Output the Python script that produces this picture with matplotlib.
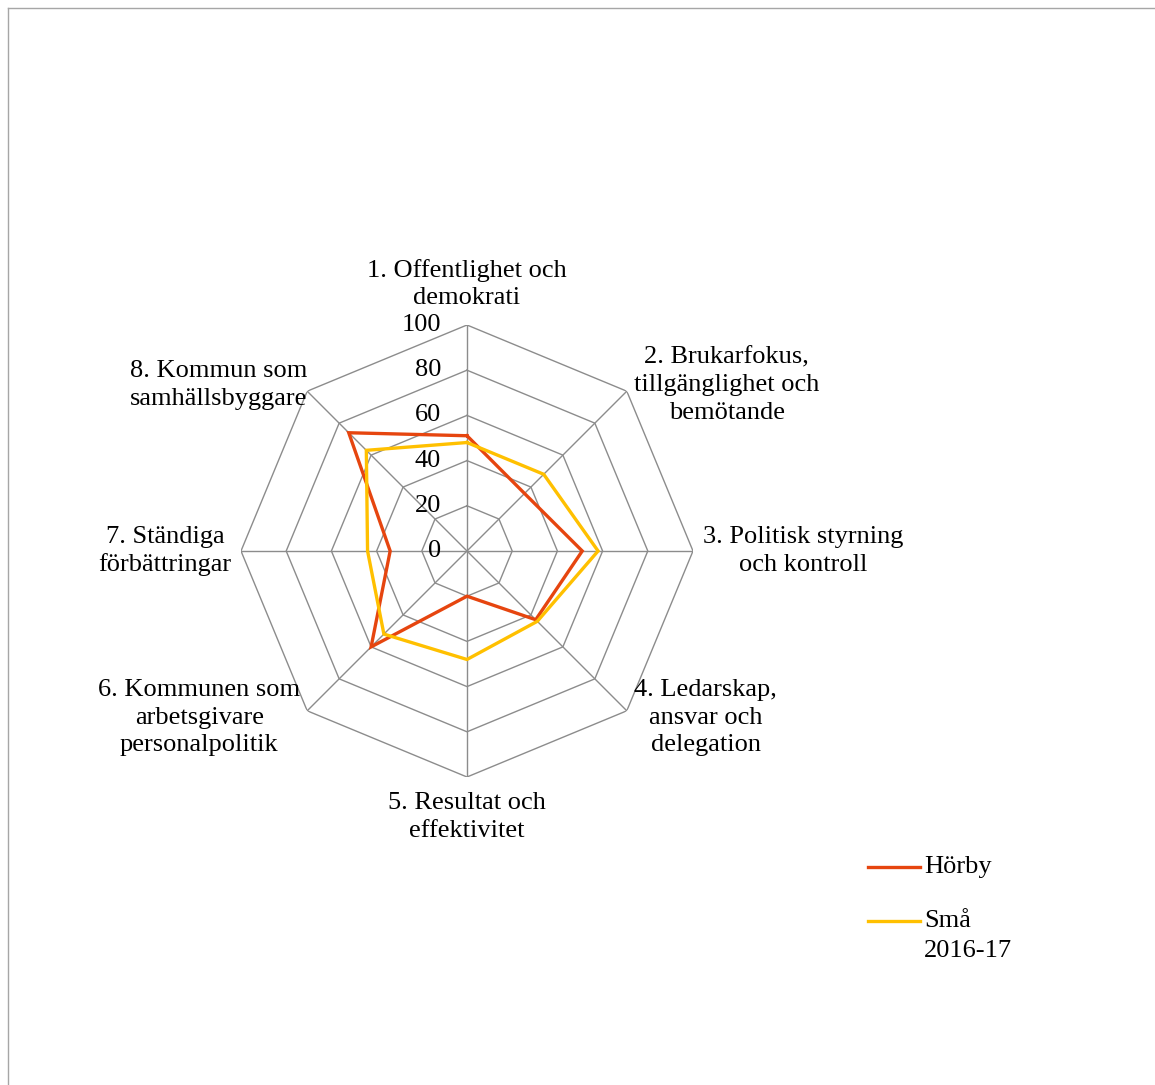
import numpy as np
import matplotlib
matplotlib.use("Agg")
import matplotlib.pyplot as plt
from matplotlib.lines import Line2D

categories = [
    "1. Offentlighet och\ndemokrati",
    "2. Brukarfokus,\ntillgänglighet och\nbemötande",
    "3. Politisk styrning\noch kontroll",
    "4. Ledarskap,\nansvar och\ndelegation",
    "5. Resultat och\neffektivitet",
    "6. Kommunen som\narbetsgivare\npersonalpolitik",
    "7. Ständiga\nförbättringar",
    "8. Kommun som\nsamhällsbyggare",
]
horby = [51, 36, 51, 43, 20, 60, 34, 74]
sma = [48, 48, 58, 44, 48, 52, 44, 63]
series_names = ["Hörby", "Små\n2016-17"]
ticks = [0, 20, 40, 60, 80, 100]

plt.rcParams['font.family'] = ['Liberation Serif', 'DejaVu Serif']
W, H = 1155, 1085
fig = plt.figure(figsize=(W / 100, H / 100), dpi=100)

cx, cy, R = 467, 551, 226
ax = fig.add_axes([(cx - R) / W, (H - cy - R) / H, 2 * R / W, 2 * R / H], projection='polar')
ax.set_theta_zero_location('N')
ax.set_theta_direction(-1)
ax.set_ylim(0, 100)
ax.axis('off')

n = len(categories)
theta = np.arange(n) * 2 * np.pi / n
tc = np.append(theta, theta[0])
grid_color = '#8c8c8c'
for t in ticks[1:]:
    ax.plot(tc, [t] * (n + 1), color=grid_color, lw=1.0, zorder=1)
for th in theta:
    ax.plot([th, th], [0, 100], color=grid_color, lw=1.0, zorder=1)

colors = ['#E6450F', '#FFC000']
for vals, col in zip([horby, sma], colors):
    v = np.append(vals, vals[0])
    ax.plot(tc, v, color=col, lw=2.4, zorder=3, solid_joinstyle='miter')

fs = 19
for t in ticks:
    ax.annotate(str(t), xy=(0, t), xytext=(-26, 0), textcoords='offset pixels',
                ha='right', va='center', fontsize=fs, zorder=4)

offsets = [(0, 41), (100, 6), (110, 0), (79, -7), (0, -40), (-108, -7), (-76, 0), (-89, 6)]
for th, lab, off in zip(theta, categories, offsets):
    ax.annotate(lab, xy=(th, 100), xytext=off, textcoords='offset pixels',
                ha='center', va='center', fontsize=fs, linespacing=1.32,
                multialignment='center', annotation_clip=False)

# chart border
border = '#a6a6a6'
fig.add_artist(Line2D([8 / W, 1], [1 - 8 / H, 1 - 8 / H], color=border, lw=1, transform=fig.transFigure))
fig.add_artist(Line2D([8 / W, 8 / W], [0, 1 - 8 / H], color=border, lw=1, transform=fig.transFigure))

# legend (drawn manually so the handle aligns with the first text line)
leg_y = [867, 921]
for name, col, yy in zip(series_names, colors, leg_y):
    fig.add_artist(Line2D([868 / W, 920 / W], [1 - yy / H, 1 - yy / H], color=col, lw=2.4,
                          transform=fig.transFigure))
    first, *rest = name.split('\n')
    fig.text(924 / W, 1 - yy / H, first, ha='left', va='center', fontsize=fs)
    for k, line in enumerate(rest, start=1):
        fig.text(924 / W, 1 - (yy + 30 * k) / H, line, ha='left', va='center', fontsize=fs)

fig.savefig('out.png', dpi=100, facecolor='white')
